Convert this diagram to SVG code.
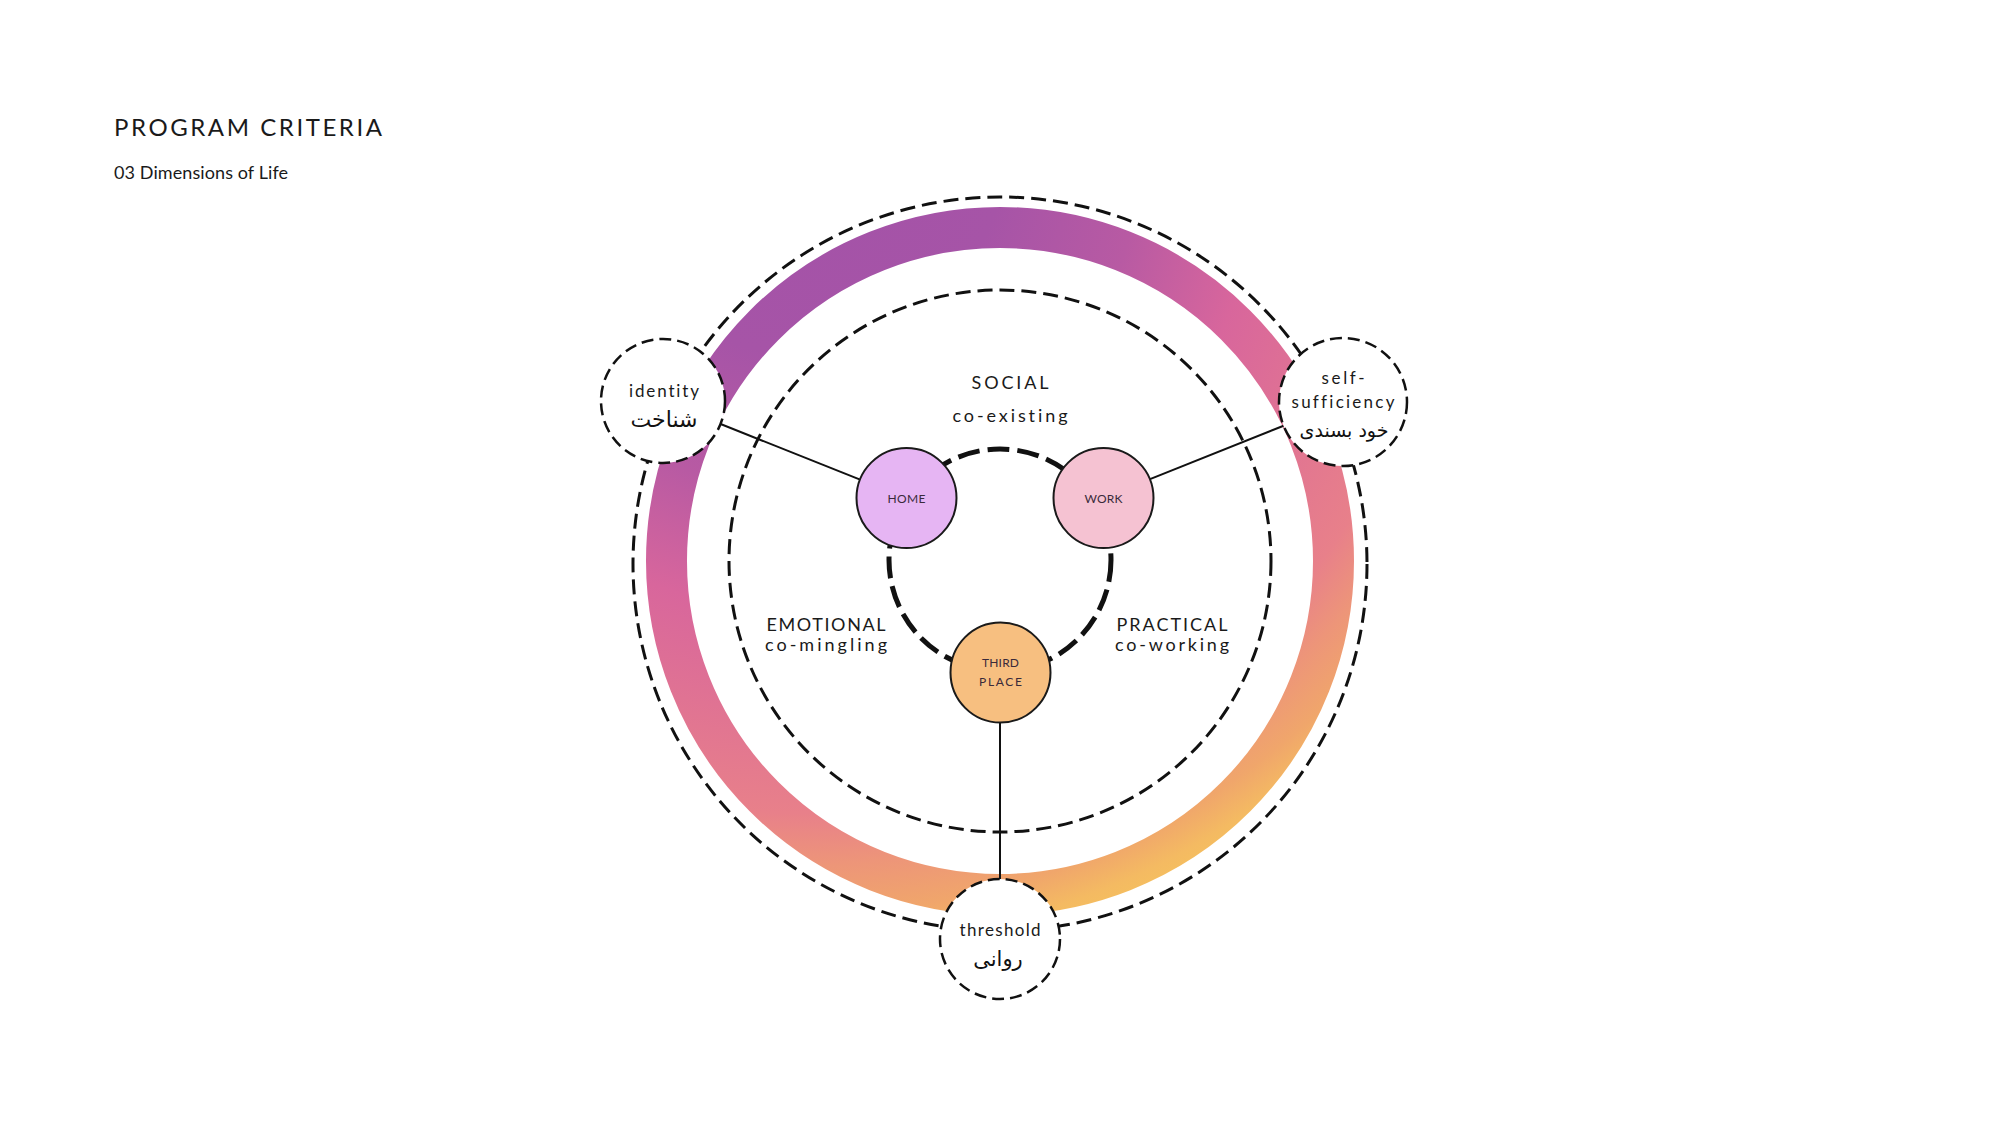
<svg xmlns="http://www.w3.org/2000/svg" width="2000" height="1125" viewBox="0 0 2000 1125">
<defs>
<radialGradient id="ringGrad" gradientUnits="userSpaceOnUse" cx="800" cy="150" r="850" fx="800" fy="150">
<stop offset="0" stop-color="#a352a8"/>
<stop offset="0.24" stop-color="#a654a7"/>
<stop offset="0.4" stop-color="#b85aa3"/>
<stop offset="0.54" stop-color="#d8669c"/>
<stop offset="0.78" stop-color="#e8808a"/>
<stop offset="0.84" stop-color="#ed9579"/>
<stop offset="0.9" stop-color="#f0a66b"/>
<stop offset="0.94" stop-color="#f4ba62"/>
<stop offset="1" stop-color="#f7c85a"/>
</radialGradient>
<style>
.lat{font-family:Lato,"Open Sans",sans-serif;fill:#1a1a1a;font-variant-ligatures:none;}
.fa{font-family:"DejaVu Sans",sans-serif;fill:#111;}
.dashO{fill:none;stroke:#111;stroke-width:3;stroke-dasharray:15 7;}
.dashT{fill:none;stroke:#111;stroke-width:5;stroke-dasharray:22 8;}
.sat{fill:#fff;stroke:#111;stroke-width:2.5;stroke-dasharray:12 6;}
.node{stroke:#1a1a1a;stroke-width:2;}
.conn{stroke:#111;stroke-width:2;fill:none;}
.nlab{font-size:12px;text-anchor:middle;fill:#3a2a3a;}
.lab{font-size:18px;text-anchor:middle;}
</style>
</defs>
<rect width="2000" height="1125" fill="#fff"/>
<g id="title">
<text class="lat" x="114" y="136" font-size="24" textLength="268" lengthAdjust="spacing">PROGRAM CRITERIA</text>
<text class="lat" x="114" y="179" font-size="18" textLength="174" lengthAdjust="spacing">03 Dimensions of Life</text>
</g>
<g id="ring">
<circle cx="1000" cy="561" r="333.5" fill="none" stroke="url(#ringGrad)" stroke-width="41"/>
</g>
<g id="outer-circle">
<circle class="dashO" cx="1000" cy="564" r="367"/>
</g>
<g id="inner-circle">
<circle class="dashO" cx="1000" cy="561" r="271"/>
</g>
<g id="triad-circle">
<circle class="dashT" cx="1000" cy="560" r="111"/>
</g>
<g id="labels">
<text class="lat lab" x="1010" y="389" textLength="77" lengthAdjust="spacing">SOCIAL</text>
<text class="lat lab" x="1010" y="422" textLength="115" lengthAdjust="spacing">co-existing</text>
<text class="lat lab" x="826" y="631" textLength="119" lengthAdjust="spacing">EMOTIONAL</text>
<text class="lat lab" x="826" y="651" textLength="122" lengthAdjust="spacing">co-mingling</text>
<text class="lat lab" x="1172" y="631" textLength="111" lengthAdjust="spacing">PRACTICAL</text>
<text class="lat lab" x="1172" y="651" textLength="114" lengthAdjust="spacing">co-working</text>
</g>
<g id="connectors">
<line class="conn" x1="720.6" y1="424" x2="859.5" y2="479.4"/>
<line class="conn" x1="1149.4" y1="479.4" x2="1283.6" y2="425.7"/>
<line class="conn" x1="1000" y1="723" x2="1000" y2="879"/>
</g>
<g id="home">
<circle class="node" cx="906.5" cy="498" r="50" fill="#e6b5f3"/>
<text class="lat nlab" x="906.5" y="503" textLength="38" lengthAdjust="spacing">HOME</text>
</g>
<g id="work">
<circle class="node" cx="1103.5" cy="498" r="50" fill="#f5c2d2"/>
<text class="lat nlab" x="1103.5" y="503" textLength="38" lengthAdjust="spacing">WORK</text>
</g>
<g id="third-place">
<circle class="node" cx="1000.5" cy="672.5" r="50" fill="#f7bf80"/>
<text class="lat nlab" x="1000.5" y="667" textLength="37" lengthAdjust="spacing">THIRD</text>
<text class="lat nlab" x="1000.5" y="686" textLength="43" lengthAdjust="spacing">PLACE</text>
</g>
<g id="identity">
<circle class="sat" cx="663" cy="401" r="62"/>
<text class="lat" x="664" y="397" font-size="17" text-anchor="middle" textLength="70" lengthAdjust="spacing">identity</text>
<text class="fa" x="664" y="427" font-size="22" text-anchor="middle">شناخت</text>
</g>
<g id="self-sufficiency">
<circle class="sat" cx="1343" cy="402" r="64"/>
<text class="lat" x="1343" y="384" font-size="17" text-anchor="middle" textLength="43" lengthAdjust="spacing">self-</text>
<text class="lat" x="1343" y="408" font-size="17" text-anchor="middle" textLength="103" lengthAdjust="spacing">sufficiency</text>
<text class="fa" x="1344" y="437" font-size="19" text-anchor="middle">خود بسندی</text>
</g>
<g id="threshold">
<circle class="sat" cx="1000" cy="939" r="60"/>
<text class="lat" x="1000" y="936" font-size="17" text-anchor="middle" textLength="81" lengthAdjust="spacing">threshold</text>
<text class="fa" x="998" y="966" font-size="21" text-anchor="middle">روانی</text>
</g>
</svg>
